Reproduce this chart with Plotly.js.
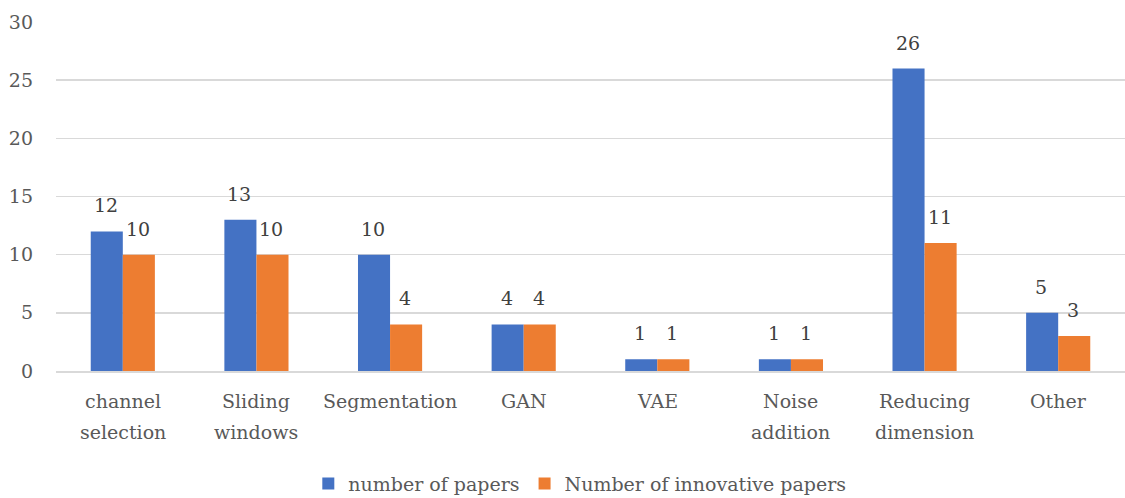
<!DOCTYPE html>
<html>
<head>
<meta charset="utf-8">
<script src="https://cdn.plot.ly/plotly-3.0.1.min.js"></script>
<style>html,body{margin:0;padding:0;background:#fff;}#chart{width:1125px;height:498px;}</style>
</head>
<body>
<div id="chart"></div>
<script>
const categories = ["channel<br>selection", "Sliding<br>windows", "Segmentation", "GAN", "VAE", "Noise<br>addition", "Reducing<br>dimension", "Other"];
const papers = [12, 13, 10, 4, 1, 1, 26, 5];
const innovative = [10, 10, 4, 4, 1, 1, 11, 3];
const seriesNames = ["number of papers", "Number of innovative papers"];

const fontFam = "DejaVu Serif, Liberation Serif, serif";
const txtColor = "#595959";
const fs = 19;

const traces = [
  {type: "bar", name: seriesNames[0], x: categories, y: papers, marker: {color: "#4472C4"}},
  {type: "bar", name: seriesNames[1], x: categories, y: innovative, marker: {color: "#ED7D31"}}
];

const annotations = [];
categories.forEach((c, i) => {
  annotations.push({x: c, y: papers[i], xref: "x", yref: "y", text: String(papers[i]), showarrow: false,
    xshift: -17, yshift: 26, yanchor: "middle", font: {family: fontFam, size: fs, color: "#404040"}});
  annotations.push({x: c, y: innovative[i], xref: "x", yref: "y", text: String(innovative[i]), showarrow: false,
    xshift: 15, yshift: 26, yanchor: "middle", font: {family: fontFam, size: fs, color: "#404040"}});
  // category label lines (with Excel-like line spacing)
  c.split("<br>").forEach((line, k) => {
    annotations.push({x: c, y: 0, xref: "x", yref: "paper", text: line, showarrow: false,
      yanchor: "middle", yshift: -(30 + 31 * k), font: {family: fontFam, size: fs, color: txtColor}});
  });
});

const layout = {
  width: 1125, height: 498,
  margin: {l: 56, r: 0, t: 22, b: 127, autoexpand: false},
  paper_bgcolor: "#fff", plot_bgcolor: "#fff",
  font: {family: fontFam, size: fs, color: txtColor},
  barmode: "group", bargap: 0.52, bargroupgap: 0,
  showlegend: true,
  legend: {orientation: "h", x: 0.49, xanchor: "center", y: -0.268, yanchor: "top",
    font: {family: fontFam, size: fs, color: txtColor}, itemwidth: 30, traceorder: "normal"},
  annotations: annotations,
  xaxis: {type: "category", automargin: false, showgrid: false, showline: true, linecolor: "#d9d9d9", linewidth: 1.5,
    ticks: "", showticklabels: false},
  yaxis: {range: [0, 30], dtick: 5, automargin: false, showgrid: true, gridcolor: "#d9d9d9", gridwidth: 1.5,
    zeroline: false, showline: false, ticks: "", ticklabelstandoff: 22,
    tickfont: {family: fontFam, size: fs, color: txtColor}}
};

Plotly.newPlot("chart", traces, layout, {displayModeBar: false, staticPlot: true});
</script>
</body>
</html>
